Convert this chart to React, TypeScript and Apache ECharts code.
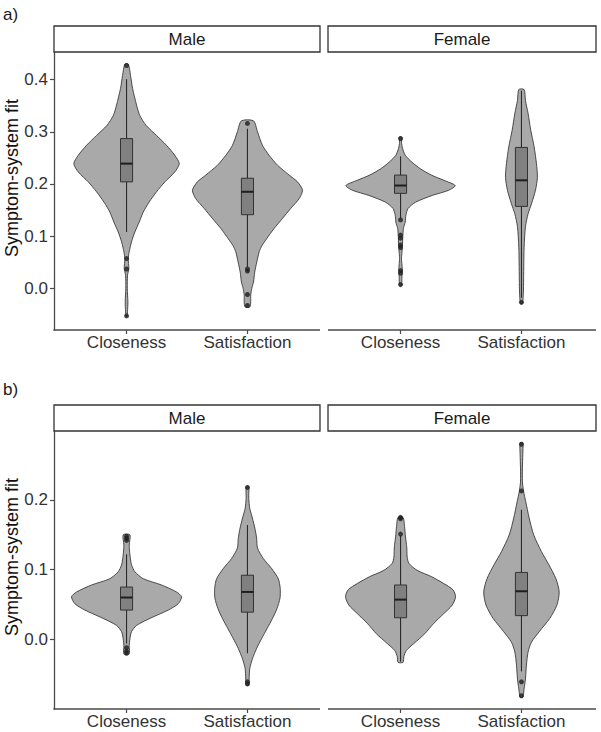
import React, { useEffect, useRef } from "react";
import * as echarts from "echarts";

// ---------- data ----------
const panelLabels = ["a)", "b)"];
const facets = ["Male", "Female"];
const categories = ["Closeness", "Satisfaction"];
const yTitle = "Symptom-system fit";
const rowYRange = [
  [-0.08, 0.453],
  [-0.1, 0.299],
];
const rowYTicks = [
  [0, 0.1, 0.2, 0.3, 0.4],
  [0, 0.1, 0.2],
];

// violin outlines: [value, half-width in category units], top to bottom
const aMaleClosenessViolin = [
  [0.43, 0.014], [0.408, 0.033], [0.383, 0.05], [0.351, 0.083], [0.331, 0.11],
  [0.312, 0.163], [0.293, 0.248], [0.274, 0.331], [0.255, 0.399], [0.239, 0.436],
  [0.223, 0.399], [0.204, 0.317], [0.185, 0.248], [0.165, 0.186], [0.146, 0.138],
  [0.127, 0.105], [0.108, 0.069], [0.089, 0.041], [0.07, 0.022], [0.057, 0.014],
  [0.038, 0.019], [0.025, 0.008], [0.0, 0.006], [-0.026, 0.011], [-0.045, 0.008],
  [-0.055, 0.003],
];
const aMaleSatisfactionViolin = [
  [0.321, 0.05], [0.3, 0.083], [0.274, 0.124], [0.255, 0.179], [0.236, 0.248],
  [0.217, 0.345], [0.204, 0.414], [0.188, 0.455], [0.172, 0.428], [0.153, 0.358],
  [0.134, 0.29], [0.114, 0.218], [0.095, 0.159], [0.082, 0.12], [0.07, 0.097],
  [0.05, 0.077], [0.031, 0.06], [0.012, 0.05], [0.0, 0.036], [-0.013, 0.027],
  [-0.026, 0.027], [-0.036, 0.019],
];
const aFemaleClosenessViolin = [
  [0.29, 0.011], [0.28, 0.008], [0.268, 0.017], [0.255, 0.039], [0.242, 0.093],
  [0.229, 0.165], [0.217, 0.255], [0.207, 0.358], [0.197, 0.452], [0.188, 0.399],
  [0.178, 0.262], [0.165, 0.124], [0.153, 0.062], [0.14, 0.044], [0.127, 0.039],
  [0.114, 0.023], [0.095, 0.018], [0.076, 0.014], [0.057, 0.008], [0.038, 0.014],
  [0.019, 0.011], [0.006, 0.008],
];
const aFemaleSatisfactionViolin = [
  [0.381, 0.022], [0.36, 0.033], [0.335, 0.055], [0.303, 0.077], [0.271, 0.105],
  [0.239, 0.124], [0.213, 0.132], [0.188, 0.116], [0.162, 0.083], [0.143, 0.055],
  [0.118, 0.033], [0.079, 0.022], [0.041, 0.019], [0.003, 0.017], [-0.017, 0.014],
  [-0.029, 0.008],
];
const bMaleClosenessViolin = [
  [0.15, 0.028], [0.135, 0.022], [0.121, 0.028], [0.107, 0.041], [0.097, 0.069],
  [0.087, 0.138], [0.078, 0.289], [0.068, 0.413], [0.061, 0.455], [0.051, 0.427],
  [0.042, 0.345], [0.03, 0.193], [0.02, 0.083], [0.011, 0.041], [0.001, 0.028],
  [-0.009, 0.022], [-0.021, 0.022],
];
const bMaleSatisfactionViolin = [
  [0.219, 0.01], [0.202, 0.011], [0.188, 0.019], [0.174, 0.041], [0.159, 0.062],
  [0.145, 0.076], [0.131, 0.083], [0.116, 0.131], [0.102, 0.198], [0.087, 0.255],
  [0.073, 0.271], [0.059, 0.269], [0.044, 0.244], [0.03, 0.207], [0.015, 0.161],
  [0.001, 0.117], [-0.013, 0.076], [-0.028, 0.041], [-0.042, 0.019], [-0.057, 0.014],
  [-0.066, 0.011],
];
const bFemaleClosenessViolin = [
  [0.175, 0.021], [0.162, 0.033], [0.147, 0.041], [0.133, 0.051], [0.118, 0.055],
  [0.109, 0.069], [0.099, 0.138], [0.09, 0.255], [0.08, 0.358], [0.071, 0.434],
  [0.061, 0.455], [0.049, 0.427], [0.037, 0.358], [0.023, 0.275], [0.008, 0.2],
  [-0.006, 0.11], [-0.016, 0.048], [-0.025, 0.027], [-0.033, 0.021],
];
const bFemaleSatisfactionViolin = [
  [0.282, 0.011], [0.265, 0.011], [0.246, 0.008], [0.226, 0.008], [0.212, 0.018],
  [0.198, 0.035], [0.174, 0.064], [0.15, 0.101], [0.126, 0.165], [0.107, 0.227],
  [0.087, 0.285], [0.068, 0.312], [0.049, 0.293], [0.03, 0.234], [0.011, 0.147],
  [-0.004, 0.083], [-0.018, 0.055], [-0.037, 0.041], [-0.057, 0.033], [-0.071, 0.022],
  [-0.083, 0.011],
];

// box stats: [lower whisker, q1, median, q3, upper whisker]
const aMaleClosenessBox = [0.108, 0.204, 0.239, 0.287, 0.401];
const aMaleSatisfactionBox = [0.041, 0.141, 0.185, 0.211, 0.306];
const aFemaleClosenessBox = [0.134, 0.182, 0.197, 0.217, 0.253];
const aFemaleSatisfactionBox = [-0.018, 0.157, 0.207, 0.27, 0.379];
const bMaleClosenessBox = [-0.006, 0.042, 0.06, 0.075, 0.122];
const bMaleSatisfactionBox = [-0.02, 0.039, 0.068, 0.092, 0.164];
const bFemaleClosenessBox = [-0.032, 0.031, 0.057, 0.078, 0.149];
const bFemaleSatisfactionBox = [-0.046, 0.034, 0.069, 0.096, 0.186];

// outliers
const aMaleClosenessOut = [0.427, 0.057, 0.037, -0.053];
const aMaleSatisfactionOut = [0.316, 0.037, 0.033, -0.012, -0.033];
const aFemaleClosenessOut = [0.287, 0.131, 0.102, 0.096, 0.083, 0.078, 0.034, 0.029, 0.007];
const aFemaleSatisfactionOut = [-0.027];
const bMaleClosenessOut = [0.148, 0.145, 0.142, -0.012, -0.017, -0.02];
const bMaleSatisfactionOut = [0.218, -0.061, -0.064];
const bFemaleClosenessOut = [0.175, 0.173, 0.151];
const bFemaleSatisfactionOut = [0.28, 0.213, -0.061, -0.081];

// row: 0 = a), 1 = b); facet: 0 = Male, 1 = Female
const groups = [
  { row: 0, facet: 0, cat: 1, violin: aMaleClosenessViolin, box: aMaleClosenessBox, out: aMaleClosenessOut },
  { row: 0, facet: 0, cat: 2, violin: aMaleSatisfactionViolin, box: aMaleSatisfactionBox, out: aMaleSatisfactionOut },
  { row: 0, facet: 1, cat: 1, violin: aFemaleClosenessViolin, box: aFemaleClosenessBox, out: aFemaleClosenessOut },
  { row: 0, facet: 1, cat: 2, violin: aFemaleSatisfactionViolin, box: aFemaleSatisfactionBox, out: aFemaleSatisfactionOut },
  { row: 1, facet: 0, cat: 1, violin: bMaleClosenessViolin, box: bMaleClosenessBox, out: bMaleClosenessOut },
  { row: 1, facet: 0, cat: 2, violin: bMaleSatisfactionViolin, box: bMaleSatisfactionBox, out: bMaleSatisfactionOut },
  { row: 1, facet: 1, cat: 1, violin: bFemaleClosenessViolin, box: bFemaleClosenessBox, out: bFemaleClosenessOut },
  { row: 1, facet: 1, cat: 2, violin: bFemaleSatisfactionViolin, box: bFemaleSatisfactionBox, out: bFemaleSatisfactionOut },
];

// ---------- layout ----------
const FONT = "'Liberation Sans', Arial, Helvetica, sans-serif";
const rowTop = [52, 431];
const plotH = 278;
const colLeft = [54, 328];
const colW = [266, 268];
const stripH = 26;
const BOX_HALF = 0.05;
// one x scale per row covering both facets; each facet spans 2.2 category units
const X_MIN = 0.4;
const unitPx = colW[0] / 2.2;
const rowW = colLeft[1] + colW[1] - colLeft[0];
const X_MAX = X_MIN + rowW / unitPx;
const facetShift = [0, (colLeft[1] - colLeft[0]) / unitPx];
const tickPos: number[] = [];
const tickName: string[] = [];
facets.forEach((_f, fi) =>
  categories.forEach((c, ci) => {
    tickPos.push(ci + 1 + facetShift[fi]);
    tickName.push(c);
  })
);

function buildOption() {
  const grid: any[] = [];
  const xAxis: any[] = [];
  const yAxis: any[] = [];
  for (let r = 0; r < 2; r++) {
    grid.push({ left: colLeft[0], top: rowTop[r], width: rowW, height: plotH, show: false });
    xAxis.push({
      type: "value",
      gridIndex: r,
      min: X_MIN,
      max: X_MAX,
      splitLine: { show: false },
      axisLine: { show: false, onZero: false },
      axisTick: { show: true, customValues: tickPos, length: 4, lineStyle: { color: "#4a4a4a", width: 1.2 } },
      axisLabel: {
        customValues: tickPos,
        formatter: (v: number) => {
          let best = 0;
          tickPos.forEach((p, i) => {
            if (Math.abs(p - v) < Math.abs(tickPos[best] - v)) best = i;
          });
          return tickName[best];
        },
        fontSize: 17,
        fontFamily: FONT,
        color: "#333",
        margin: 4,
      },
    });
    yAxis.push({
      type: "value",
      gridIndex: r,
      min: rowYRange[r][0],
      max: rowYRange[r][1],
      splitLine: { show: false },
      axisLine: { show: true, onZero: false, lineStyle: { color: "#4a4a4a", width: 1.3 } },
      axisTick: { show: true, customValues: rowYTicks[r], length: 4, lineStyle: { color: "#4a4a4a", width: 1.2 } },
      axisLabel: {
        customValues: rowYTicks[r],
        formatter: (v: number) => v.toFixed(1),
        fontSize: 17,
        fontFamily: FONT,
        color: "#333",
        margin: 6,
      },
    });
  }

  const series: any[] = [];
  groups.forEach((g) => {
    const cx = g.cat + facetShift[g.facet];
    series.push({
      type: "custom",
      xAxisIndex: g.row,
      yAxisIndex: g.row,
      z: 2,
      silent: true,
      data: [[cx, g.box[2]]],
      renderItem: (_params: any, api: any) => {
        const left = g.violin.map(([v, w]) => api.coord([cx - w, v]));
        const right = g.violin
          .slice()
          .reverse()
          .map(([v, w]) => api.coord([cx + w, v]));
        const pts = left.concat(right);
        const [bx0, yq3] = api.coord([cx - BOX_HALF, g.box[3]]);
        const [bx1, yq1] = api.coord([cx + BOX_HALF, g.box[1]]);
        const [, ymed] = api.coord([cx, g.box[2]]);
        const [xc, ylo] = api.coord([cx, g.box[0]]);
        const [, yhi] = api.coord([cx, g.box[4]]);
        return {
          type: "group",
          children: [
            {
              type: "polygon",
              shape: { points: pts, smooth: 0.25 },
              style: { fill: "#A9A9AA", stroke: "#3a3a3a", lineWidth: 0.9 },
            },
            {
              type: "line",
              shape: { x1: xc, y1: yhi, x2: xc, y2: ylo },
              style: { stroke: "#2a2a2a", lineWidth: 1.1 },
            },
            {
              type: "rect",
              shape: { x: bx0, y: yq3, width: bx1 - bx0, height: yq1 - yq3 },
              style: { fill: "#808081", stroke: "#333", lineWidth: 1 },
            },
            {
              type: "line",
              shape: { x1: bx0, y1: ymed, x2: bx1, y2: ymed },
              style: { stroke: "#1e1e1e", lineWidth: 2 },
            },
          ],
        };
      },
    });
    series.push({
      type: "scatter",
      xAxisIndex: g.row,
      yAxisIndex: g.row,
      z: 3,
      silent: true,
      symbolSize: 5,
      itemStyle: { color: "#1e1e1e" },
      data: g.out.map((v) => [cx, v]),
    });
  });

  const graphic: any[] = [];
  for (let r = 0; r < 2; r++) {
    for (let c = 0; c < 2; c++) {
      // x-axis line of each facet panel
      graphic.push({
        type: "line",
        shape: {
          x1: colLeft[c] - (c === 0 ? 0.65 : 0),
          y1: rowTop[r] + plotH,
          x2: colLeft[c] + colW[c],
          y2: rowTop[r] + plotH,
        },
        style: { stroke: "#4a4a4a", lineWidth: 1.3 },
        z: 5,
        silent: true,
      });
      graphic.push({
        type: "rect",
        shape: { x: colLeft[c], y: rowTop[r] - stripH, width: colW[c], height: stripH },
        style: { fill: "#fff", stroke: "#333", lineWidth: 1.3 },
        z: 60,
      });
      graphic.push({
        type: "text",
        x: colLeft[c] + colW[c] / 2,
        y: rowTop[r] - stripH / 2,
        style: {
          text: facets[c],
          fontSize: 17,
          fontFamily: FONT,
          fill: "#1a1a1a",
          align: "center",
          verticalAlign: "middle",
        },
        z: 61,
      });
    }
    graphic.push({
      type: "text",
      x: 3,
      y: r === 0 ? 14 : 389,
      style: {
        text: panelLabels[r],
        fontSize: 17,
        fontFamily: FONT,
        fill: "#1a1a1a",
        align: "left",
        verticalAlign: "middle",
      },
    });
    graphic.push({
      type: "text",
      x: 12,
      y: rowTop[r] - stripH + (plotH + stripH) / 2,
      rotation: Math.PI / 2,
      style: {
        text: yTitle,
        fontSize: 18,
        fontFamily: FONT,
        fill: "#111",
        align: "center",
        verticalAlign: "middle",
      },
    });
  }

  return {
    animation: false,
    backgroundColor: "#ffffff",
    grid,
    xAxis,
    yAxis,
    series,
    graphic,
  };
}

export default function App() {
  const ref = useRef<HTMLDivElement>(null);
  useEffect(() => {
    document.body.style.margin = "0";
    if (!ref.current) return;
    const chart = echarts.init(ref.current, undefined, { renderer: "svg" });
    chart.setOption(buildOption() as any);
    return () => chart.dispose();
  }, []);
  return <div ref={ref} style={{ width: 601, height: 732 }} />;
}
